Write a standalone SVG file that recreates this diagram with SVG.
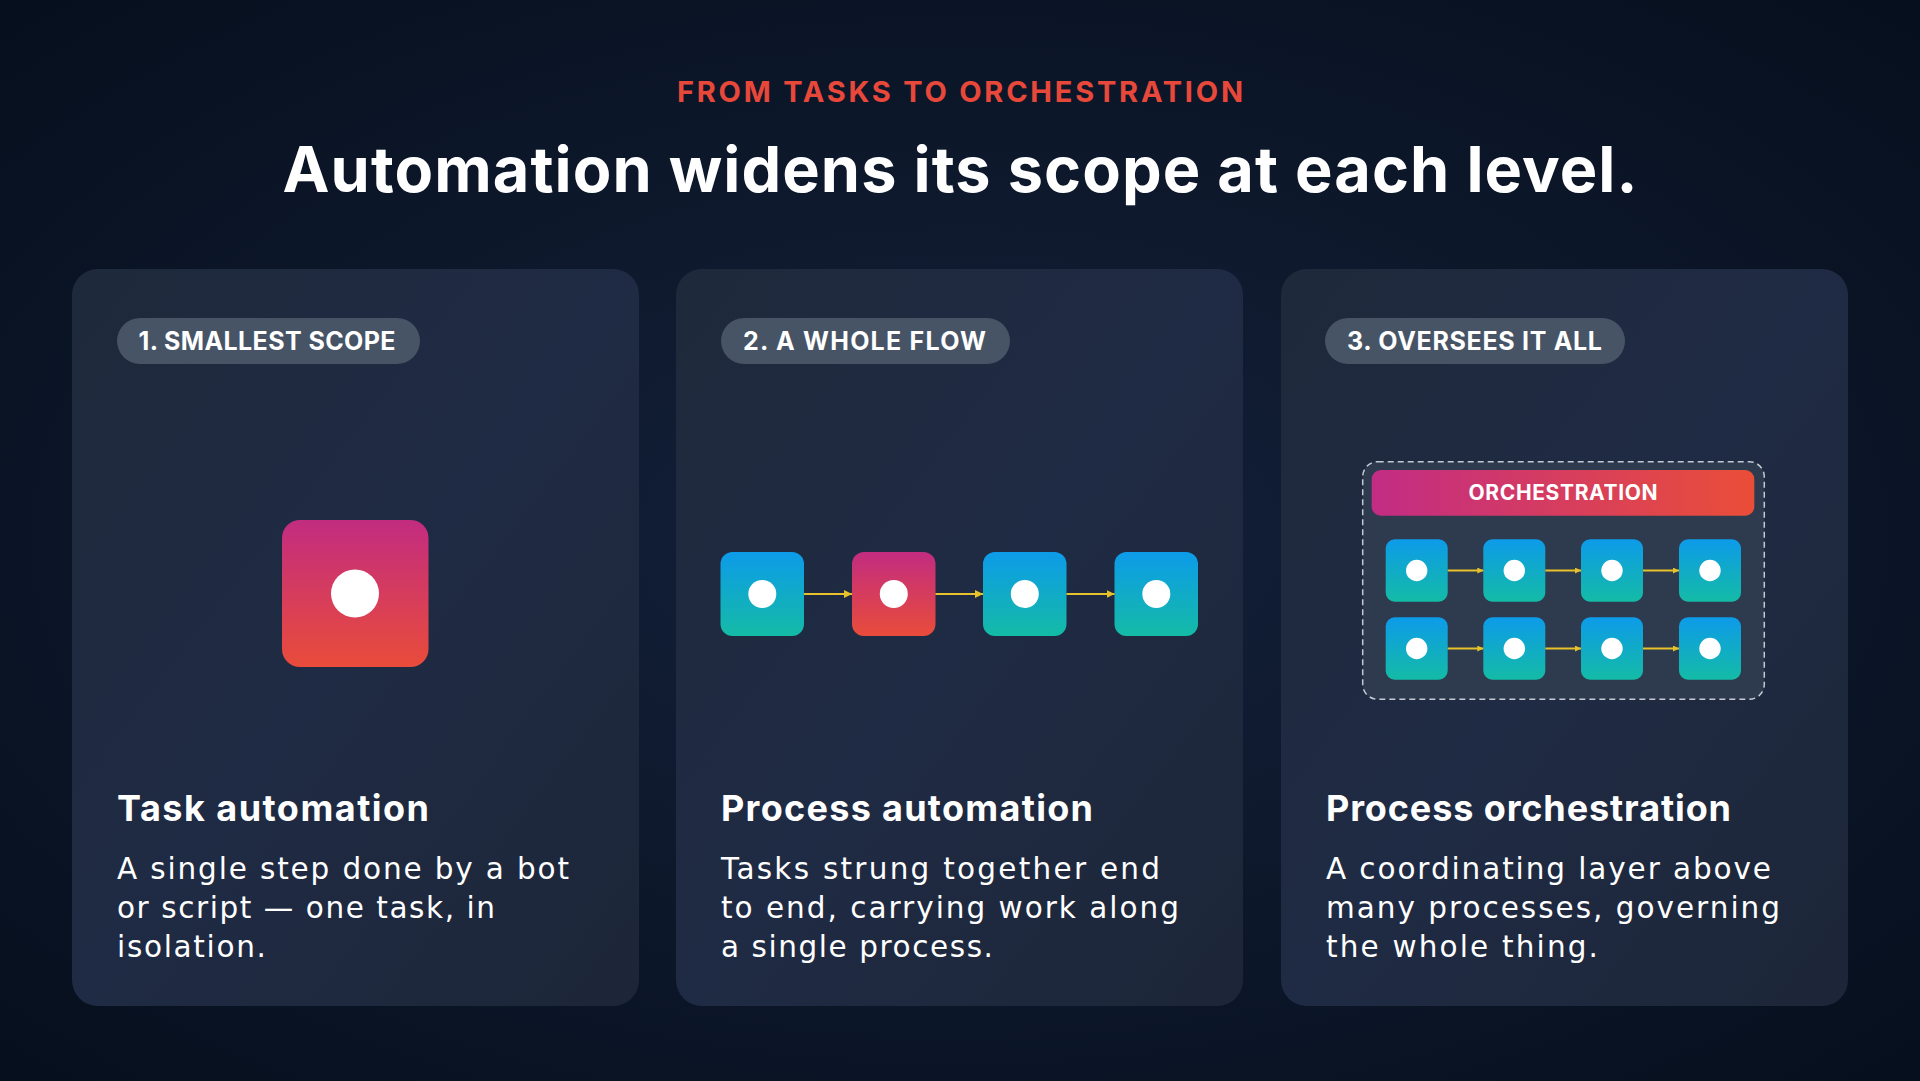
<svg xmlns="http://www.w3.org/2000/svg" width="1920" height="1081" viewBox="0 0 1920 1081">
<defs>
<radialGradient id="bg" cx="50%" cy="50%" r="70%">
<stop offset="0" stop-color="#14213a"/>
<stop offset="1" stop-color="#060f1d"/>
</radialGradient>
<linearGradient id="card" x1="0" y1="0" x2="1" y2="1">
<stop offset="0" stop-color="#1e293b"/>
<stop offset="0.5" stop-color="#1f2b44"/>
<stop offset="1" stop-color="#1d2638"/>
</linearGradient>
<linearGradient id="pink" x1="0" y1="0" x2="0" y2="1">
<stop offset="0" stop-color="#c22c80"/>
<stop offset="1" stop-color="#e94c3a"/>
</linearGradient>
<linearGradient id="blue" x1="0" y1="0" x2="0" y2="1">
<stop offset="0" stop-color="#0d9be9"/>
<stop offset="1" stop-color="#14bba6"/>
</linearGradient>
<linearGradient id="orch" x1="0" y1="0" x2="1" y2="0">
<stop offset="0" stop-color="#c22c84"/>
<stop offset="1" stop-color="#ea4e38"/>
</linearGradient>
<marker id="arr" markerUnits="userSpaceOnUse" markerWidth="8" markerHeight="8" refX="8" refY="4" orient="auto">
<path d="M0,0 L8,4 L0,8 z" fill="#e8c22a"/>
</marker>
<marker id="arrs" markerUnits="userSpaceOnUse" markerWidth="6" markerHeight="6" refX="6" refY="3" orient="auto">
<path d="M0,0 L6,3 L0,6 z" fill="#e8c22a"/>
</marker>
</defs>
<style>
.card{fill:url(#card)}
.pill{fill:#465466}
.pilltxt{font-family:Inter,"Open Sans",sans-serif;font-weight:700;font-size:25px;fill:#ffffff}
.head{font-family:Inter,"Open Sans",sans-serif;font-weight:700;font-size:36px;fill:#ffffff}
.body{font-family:"DejaVu Sans",Inter,sans-serif;font-weight:400;font-size:29.5px;fill:#ffffff}
.dot{fill:#ffffff}
.conn{stroke:#e8c22a;stroke-width:2;fill:none}
</style>
<rect x="0" y="0" width="1920" height="1081" fill="url(#bg)"/>
<g id="header">
<text x="960" y="102" text-anchor="middle" font-family="Inter,'Open Sans',sans-serif" font-weight="700" font-size="29" fill="#e8483a" textLength="566">FROM TASKS TO ORCHESTRATION</text>
<text x="960" y="192" text-anchor="middle" font-family="Inter,'Open Sans',sans-serif" font-weight="700" font-size="63" fill="#ffffff" textLength="1355">Automation widens its scope at each level.</text>
</g>
<g id="card1">
<rect class="card" x="72" y="269" width="567" height="737" rx="26"/>
<rect class="pill" x="117" y="318" width="303" height="46" rx="23"/>
<text class="pilltxt" x="138.5" y="350" textLength="257">1. SMALLEST SCOPE</text>
<rect x="282" y="520" width="146.5" height="147" rx="18" fill="url(#pink)"/>
<circle class="dot" cx="355" cy="593.5" r="24"/>
<text class="head" x="117" y="821" textLength="312">Task automation</text>
<text class="body" x="117" y="879" textLength="452">A single step done by a bot</text>
<text class="body" x="117" y="918" textLength="378">or script — one task, in</text>
<text class="body" x="117" y="957" textLength="149">isolation.</text>
</g>
<g id="card2">
<rect class="card" x="676" y="269" width="567" height="737" rx="26"/>
<rect class="pill" x="721" y="318" width="289" height="46" rx="23"/>
<text class="pilltxt" x="743" y="350" textLength="243">2. A WHOLE FLOW</text>
<g id="flow-1"><rect x="720.5" y="552" width="83.5" height="84" rx="12" fill="url(#blue)"/><circle class="dot" cx="762.3" cy="594" r="14"/></g>
<g id="flow-2"><rect x="852" y="552" width="83.5" height="84" rx="12" fill="url(#pink)"/><circle class="dot" cx="893.8" cy="594" r="14"/></g>
<g id="flow-3"><rect x="983" y="552" width="83.5" height="84" rx="12" fill="url(#blue)"/><circle class="dot" cx="1024.8" cy="594" r="14"/></g>
<g id="flow-4"><rect x="1114.5" y="552" width="83.5" height="84" rx="12" fill="url(#blue)"/><circle class="dot" cx="1156.3" cy="594" r="14"/></g>
<text class="head" x="721" y="821" textLength="372">Process automation</text>
<text class="body" x="721" y="879" textLength="439">Tasks strung together end</text>
<text class="body" x="721" y="918" textLength="458">to end, carrying work along</text>
<text class="body" x="721" y="957" textLength="272">a single process.</text>
</g>
<g id="card3">
<rect class="card" x="1281" y="269" width="567" height="737" rx="26"/>
<rect class="pill" x="1325" y="318" width="300" height="46" rx="23"/>
<text class="pilltxt" x="1347" y="350" textLength="255">3. OVERSEES IT ALL</text>
<rect x="1362.7" y="461.7" width="401.6" height="237.6" rx="15" fill="#2e3a4e" stroke="#c3cad4" stroke-width="1.5" stroke-dasharray="6 4"/>
<g id="orchestration">
<rect x="1371.7" y="470" width="382.6" height="45.7" rx="9" fill="url(#orch)"/>
<text x="1563" y="500" text-anchor="middle" font-family="Inter,'Open Sans',sans-serif" font-weight="700" font-size="21" fill="#ffffff" textLength="189">ORCHESTRATION</text>
</g>
<g id="r1-1"><rect x="1385.7" y="539.3" width="62" height="62.4" rx="9" fill="url(#blue)"/><circle class="dot" cx="1416.7" cy="570.5" r="10.7"/></g>
<g id="r1-2"><rect x="1483.3" y="539.3" width="62" height="62.4" rx="9" fill="url(#blue)"/><circle class="dot" cx="1514.3" cy="570.5" r="10.7"/></g>
<g id="r1-3"><rect x="1581" y="539.3" width="62" height="62.4" rx="9" fill="url(#blue)"/><circle class="dot" cx="1612" cy="570.5" r="10.7"/></g>
<g id="r1-4"><rect x="1679" y="539.3" width="62" height="62.4" rx="9" fill="url(#blue)"/><circle class="dot" cx="1710" cy="570.5" r="10.7"/></g>
<g id="r2-1"><rect x="1385.7" y="617.3" width="62" height="62.4" rx="9" fill="url(#blue)"/><circle class="dot" cx="1416.7" cy="648.5" r="10.7"/></g>
<g id="r2-2"><rect x="1483.3" y="617.3" width="62" height="62.4" rx="9" fill="url(#blue)"/><circle class="dot" cx="1514.3" cy="648.5" r="10.7"/></g>
<g id="r2-3"><rect x="1581" y="617.3" width="62" height="62.4" rx="9" fill="url(#blue)"/><circle class="dot" cx="1612" cy="648.5" r="10.7"/></g>
<g id="r2-4"><rect x="1679" y="617.3" width="62" height="62.4" rx="9" fill="url(#blue)"/><circle class="dot" cx="1710" cy="648.5" r="10.7"/></g>
<text class="head" x="1326" y="821" textLength="405">Process orchestration</text>
<text class="body" x="1326" y="879" textLength="445">A coordinating layer above</text>
<text class="body" x="1326" y="918" textLength="454">many processes, governing</text>
<text class="body" x="1326" y="957" textLength="272">the whole thing.</text>
</g>
<g id="connectors">
<line class="conn" x1="804" y1="594" x2="852" y2="594" marker-end="url(#arr)"/>
<line class="conn" x1="935.5" y1="594" x2="983" y2="594" marker-end="url(#arr)"/>
<line class="conn" x1="1066.5" y1="594" x2="1114.5" y2="594" marker-end="url(#arr)"/>
<line class="conn" stroke-width="1.5" x1="1447.7" y1="570.5" x2="1483.3" y2="570.5" marker-end="url(#arrs)"/>
<line class="conn" stroke-width="1.5" x1="1545.3" y1="570.5" x2="1581" y2="570.5" marker-end="url(#arrs)"/>
<line class="conn" stroke-width="1.5" x1="1643" y1="570.5" x2="1679" y2="570.5" marker-end="url(#arrs)"/>
<line class="conn" stroke-width="1.5" x1="1447.7" y1="648.5" x2="1483.3" y2="648.5" marker-end="url(#arrs)"/>
<line class="conn" stroke-width="1.5" x1="1545.3" y1="648.5" x2="1581" y2="648.5" marker-end="url(#arrs)"/>
<line class="conn" stroke-width="1.5" x1="1643" y1="648.5" x2="1679" y2="648.5" marker-end="url(#arrs)"/>
</g>
</svg>
